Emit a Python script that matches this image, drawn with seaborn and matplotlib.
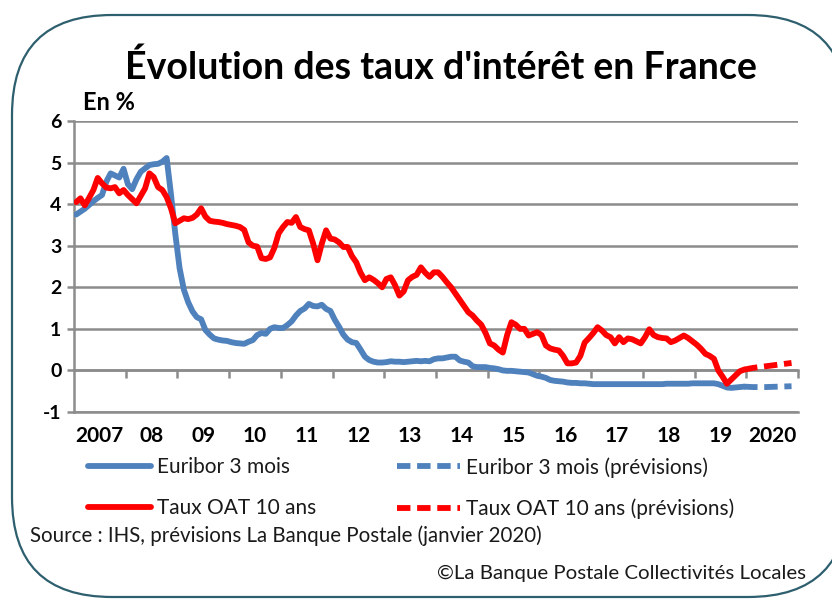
import numpy as np
import pandas as pd
import matplotlib
matplotlib.use("Agg")
import matplotlib.pyplot as plt
import seaborn as sns
from matplotlib.patches import FancyBboxPatch
from matplotlib.lines import Line2D

# ---------------- data (monthly, Jan 2007 .. Dec 2019) ----------------
start_year = 2007
euribor_3m = [
    3.75, 3.82, 3.89, 3.98, 4.07, 4.15, 4.22, 4.54, 4.74, 4.69, 4.64, 4.85,   # 2007
    4.48, 4.36, 4.60, 4.78, 4.86, 4.94, 4.96, 4.97, 5.02, 5.11, 4.24, 3.29,   # 2008
    2.46, 1.94, 1.64, 1.42, 1.28, 1.23, 0.97, 0.86, 0.77, 0.74, 0.72, 0.71,   # 2009
    0.68, 0.66, 0.65, 0.64, 0.69, 0.73, 0.85, 0.90, 0.88, 1.00, 1.04, 1.02,   # 2010
    1.02, 1.09, 1.18, 1.32, 1.43, 1.49, 1.60, 1.55, 1.54, 1.58, 1.48, 1.43,   # 2011
    1.22, 1.05, 0.86, 0.74, 0.68, 0.66, 0.50, 0.33, 0.25, 0.21, 0.19, 0.19,   # 2012
    0.20, 0.22, 0.21, 0.21, 0.20, 0.21, 0.22, 0.23, 0.22, 0.23, 0.22, 0.27,   # 2013
    0.29, 0.29, 0.31, 0.33, 0.33, 0.24, 0.21, 0.19, 0.10, 0.08, 0.08, 0.08,   # 2014
    0.06, 0.05, 0.03, 0.00, -0.01, -0.01, -0.02, -0.03, -0.04, -0.05, -0.09, -0.13,  # 2015
    -0.15, -0.18, -0.23, -0.25, -0.26, -0.27, -0.29, -0.30, -0.30, -0.31, -0.31, -0.32,  # 2016
    -0.33, -0.33, -0.33, -0.33, -0.33, -0.33, -0.33, -0.33, -0.33, -0.33, -0.33, -0.33,  # 2017
    -0.33, -0.33, -0.33, -0.33, -0.33, -0.32, -0.32, -0.32, -0.32, -0.32, -0.32, -0.31,  # 2018
    -0.31, -0.31, -0.31, -0.31, -0.31, -0.33, -0.37, -0.41, -0.42, -0.41, -0.40, -0.39,  # 2019
]
oat_10y = [
    4.05, 4.14, 3.97, 4.15, 4.34, 4.63, 4.50, 4.40, 4.38, 4.41, 4.26, 4.34,   # 2007
    4.22, 4.12, 4.02, 4.20, 4.38, 4.74, 4.65, 4.41, 4.34, 4.17, 3.90, 3.54,   # 2008
    3.60, 3.66, 3.64, 3.67, 3.75, 3.90, 3.70, 3.60, 3.58, 3.57, 3.55, 3.52,   # 2009
    3.50, 3.48, 3.45, 3.38, 3.08, 3.00, 2.98, 2.70, 2.68, 2.72, 2.95, 3.30,   # 2010
    3.45, 3.57, 3.55, 3.69, 3.45, 3.40, 3.37, 3.05, 2.65, 3.05, 3.37, 3.17,   # 2011
    3.15, 3.08, 2.97, 2.97, 2.75, 2.60, 2.35, 2.17, 2.24, 2.18, 2.10, 2.00,   # 2012
    2.20, 2.24, 2.05, 1.80, 1.90, 2.17, 2.25, 2.30, 2.48, 2.35, 2.25, 2.36,   # 2013
    2.36, 2.25, 2.12, 2.00, 1.85, 1.70, 1.55, 1.40, 1.32, 1.20, 1.10, 0.90,   # 2014
    0.65, 0.60, 0.50, 0.43, 0.85, 1.16, 1.10, 1.00, 1.00, 0.84, 0.88, 0.92,   # 2015
    0.85, 0.60, 0.53, 0.50, 0.48, 0.35, 0.17, 0.17, 0.19, 0.35, 0.67, 0.78,   # 2016
    0.90, 1.04, 0.96, 0.85, 0.80, 0.65, 0.80, 0.68, 0.77, 0.75, 0.70, 0.65,   # 2017
    0.80, 0.99, 0.85, 0.80, 0.78, 0.77, 0.68, 0.72, 0.78, 0.84, 0.78, 0.70,   # 2018
    0.62, 0.52, 0.40, 0.35, 0.28, 0.00, -0.15, -0.32, -0.22, -0.12, -0.02, 0.02,  # 2019
]
# forecasts (quarterly, 2020)
forecast_t = [2020.125, 2020.375, 2020.625, 2020.875]
euribor_prev = [-0.40, -0.40, -0.39, -0.38]
oat_prev = [0.06, 0.10, 0.14, 0.18]

year_labels = ["2007", "08", "09", "10", "11", "12", "13", "14",
               "15", "16", "17", "18", "19", "2020"]
legend_labels = ["Euribor 3 mois", "Taux OAT 10 ans",
                 "Euribor 3 mois (prévisions)", "Taux OAT 10 ans (prévisions)"]
title = "Évolution des taux d'intérêt en France"
unit_label = "En %"
source_text = "Source : IHS, prévisions La Banque Postale (janvier 2020)"
copyright_text = "©La Banque Postale Collectivités Locales"

# ---------------- frames ----------------
t_hist = [start_year + (i + 0.5) / 12 for i in range(len(euribor_3m))]
hist = pd.DataFrame({"t": t_hist, "euribor": euribor_3m, "oat": oat_10y})
prev = pd.DataFrame({
    "t": [t_hist[-1]] + forecast_t,
    "euribor": [euribor_3m[-1]] + euribor_prev,
    "oat": [oat_10y[-1]] + oat_prev,
})

BLUE = "#4F81BD"
RED = "#FF0000"
GRID = "#8C8C8C"
FRAME = "#2E5F6E"
TXT = "#1a1a1a"

sns.set_theme(style="white")
plt.rcParams["font.family"] = ["Lato", "DejaVu Sans"]

W, H = 832, 599
fig = plt.figure(figsize=(W / 100, H / 100), dpi=100)

# background with rounded frame
bg = fig.add_axes([0, 0, 1, 1], zorder=0)
bg.set_xlim(0, W)
bg.set_ylim(H, 0)
bg.axis("off")
bg.add_patch(FancyBboxPatch((12, 15), 836, 582,
                            boxstyle="round,pad=0,rounding_size=100",
                            fc="white", ec=FRAME, lw=1.6))

# plot area
L, R, T, B = 74, 798, 121, 412
ax = fig.add_axes([L / W, 1 - B / H, (R - L) / W, (B - T) / H], zorder=2)
ax.patch.set_alpha(0)

lw = 4.2
dash = (0, (2.3, 1.15))
sns.lineplot(data=hist, x="t", y="euribor", ax=ax, color=BLUE, linewidth=lw,
             solid_capstyle="round", solid_joinstyle="round", zorder=4)
sns.lineplot(data=hist, x="t", y="oat", ax=ax, color=RED, linewidth=lw,
             solid_capstyle="round", solid_joinstyle="round", zorder=5)
sns.lineplot(data=prev, x="t", y="euribor", ax=ax, color=BLUE, linewidth=lw,
             linestyle=dash, zorder=4)
sns.lineplot(data=prev, x="t", y="oat", ax=ax, color=RED, linewidth=lw,
             linestyle=dash, zorder=5)

ax.set_xlim(start_year, start_year + len(year_labels))
ax.set_ylim(-1, 6)
ax.set_xlabel("")
ax.set_ylabel("")

ax.set_yticks(range(-1, 7))
ax.set_yticklabels([str(v) for v in range(-1, 7)], fontweight="bold",
                   fontsize=14, color="black")
ax.yaxis.grid(True, color=GRID, linewidth=1.8, zorder=1)
ax.xaxis.grid(False)
ax.tick_params(axis="y", left=True, length=5, width=1.8, color=GRID, pad=4)

ax.set_xticks([start_year + i + 0.5 for i in range(len(year_labels))])
ax.set_xticklabels(year_labels, fontweight="bold", fontsize=15, color="black")
ax.tick_params(axis="x", bottom=True, length=0, pad=10)

for s in ["top", "right"]:
    ax.spines[s].set_visible(False)
for s in ["left", "bottom"]:
    ax.spines[s].set_color(GRID)
    ax.spines[s].set_linewidth(1.8)

# horizontal category axis at y = 0 with year-boundary ticks
sec = ax.secondary_xaxis(1 / 7)
sec.set_xticks(range(start_year + 1, start_year + len(year_labels) + 1))
sec.tick_params(axis="x", direction="out", length=6, width=1.8, color=GRID,
                labelbottom=False, labeltop=False)
for s in sec.spines.values():
    s.set_color(GRID)
    s.set_linewidth(1.8)

# texts
fig.text(441 / W, 1 - 67 / H, title, ha="center", va="center",
         fontsize=27, fontweight="bold", color="black")
fig.text(83 / W, 1 - 103 / H, unit_label, ha="left", va="center",
         fontsize=17, fontweight="bold", color="black")
fig.text(30 / W, 1 - 536 / H, source_text, ha="left", va="center",
         fontsize=14.8, color=TXT)
fig.text(806 / W, 1 - 573 / H, copyright_text, ha="right", va="center",
         fontsize=14.7, color=TXT)

# legend (two columns)
h_eur = Line2D([], [], color=BLUE, lw=lw, solid_capstyle="round")
h_oat = Line2D([], [], color=RED, lw=lw, solid_capstyle="round")
h_eur_p = Line2D([], [], color=BLUE, lw=lw, linestyle=dash)
h_oat_p = Line2D([], [], color=RED, lw=lw, linestyle=dash)
leg_kw = dict(frameon=False, fontsize=15, handlelength=3.0, handletextpad=0.3,
              labelspacing=1.0, borderpad=0, borderaxespad=0, loc="upper left")
leg1 = fig.legend([h_eur, h_oat], legend_labels[:2],
                  bbox_to_anchor=(88 / W, 1 - 457 / H), labelcolor=TXT, **leg_kw)
leg2 = fig.legend([h_eur_p, h_oat_p], legend_labels[2:],
                  bbox_to_anchor=(397 / W, 1 - 457 / H), labelcolor=TXT, **leg_kw)

fig.savefig("out.png", dpi=100)
